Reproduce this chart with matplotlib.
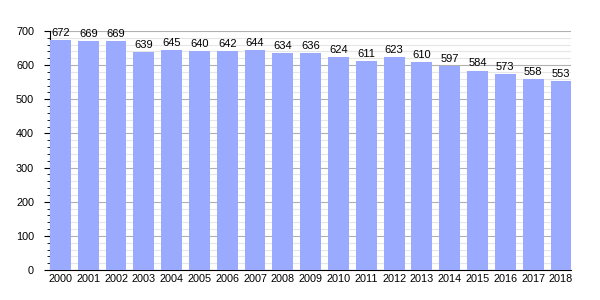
import matplotlib
matplotlib.use("Agg")
import matplotlib.pyplot as plt
from matplotlib.ticker import MultipleLocator

plt.rcParams['font.family'] = ['Liberation Sans', 'DejaVu Sans']

years = [str(y) for y in range(2000, 2019)]
values = [672, 669, 669, 639, 645, 640, 642, 644, 634, 636, 624, 611, 623, 610, 597, 584, 573, 558, 553]

fig = plt.figure(figsize=(6, 3), dpi=100)
ax = fig.add_axes([0.0833, 0.1, 0.869, 0.797])

w = 0.75
x = list(range(len(years)))
ax.bar(x, values, width=w, color='#99aaff', zorder=3)
for xi, v in zip(x, values):
    ax.annotate(str(v), (xi, v), xytext=(0, 1.5), textcoords='offset points',
                ha='center', va='bottom', fontsize=8, zorder=4)

ax.set_xlim(-w / 2, len(years) - 1 + w / 2)
ax.set_ylim(0, 700)
ax.set_xticks(x)
ax.set_xticklabels(years, fontsize=7.8)
ax.tick_params(axis='x', length=0, pad=3)
ax.yaxis.set_major_locator(MultipleLocator(100))
ax.yaxis.set_minor_locator(MultipleLocator(20))
ax.tick_params(axis='y', which='major', length=4.5, labelsize=7.8, direction='out', pad=7)
ax.tick_params(axis='y', which='minor', length=2.5, direction='out')
ax.grid(axis='y', which='major', color='#b0b0b0', linewidth=0.8, zorder=0)
ax.grid(axis='y', which='minor', color='#e6e6e6', linewidth=0.8, zorder=0)
ax.set_axisbelow(True)
for s in ['top', 'right']:
    ax.spines[s].set_visible(False)
ax.spines['left'].set_color('black')
ax.spines['bottom'].set_color('black')

fig.savefig('out.png', dpi=100)
